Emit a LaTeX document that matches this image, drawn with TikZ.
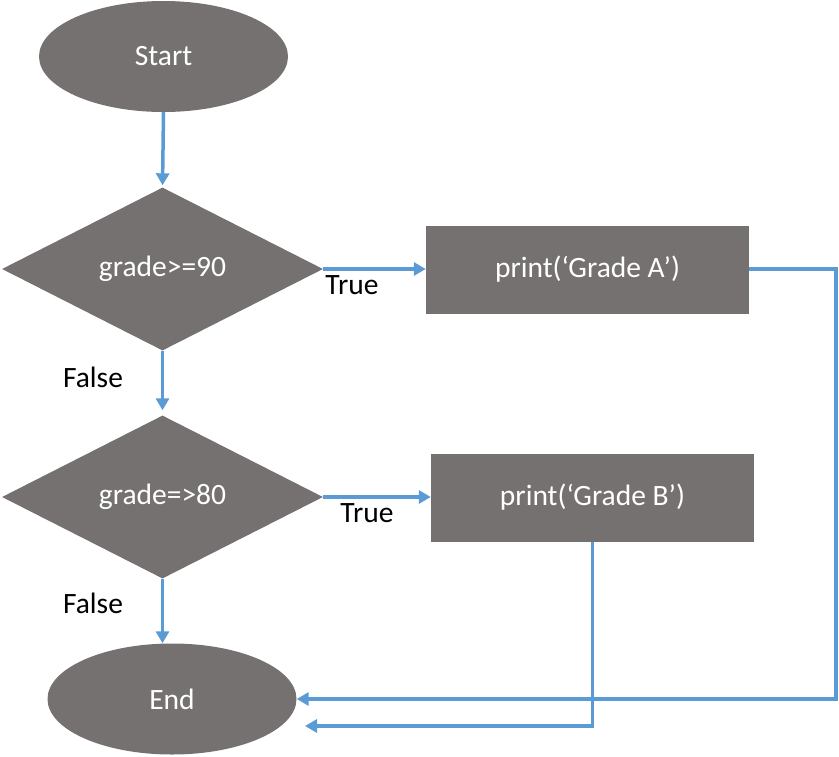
\documentclass[tikz,border=0pt]{standalone}
\usepackage{fontspec}
\setmainfont{Carlito}
\usetikzlibrary{shapes.geometric,arrows.meta}
\definecolor{shapegray}{HTML}{767171}
\definecolor{linkblue}{HTML}{5B9BD5}
\begin{document}
\begin{tikzpicture}[x=1pt,y=-1pt,
  every node/.style={font=\fontsize{29.5}{35}\selectfont},
  term/.style={ellipse,fill=shapegray,text=white,inner sep=0pt,minimum width=249pt,minimum height=111pt},
  decide/.style={diamond,fill=shapegray,text=white,inner sep=0pt,minimum width=321pt,minimum height=163pt},
  proc/.style={rectangle,fill=shapegray,text=white,inner sep=0pt,minimum width=323pt,minimum height=88pt},
  link/.style={draw=linkblue,line width=3.5pt,-{Triangle[length=12pt,width=13pt]}},
  lbl/.style={text=black,inner sep=0pt}]
\useasboundingbox (0,0) rectangle (839,756);
\node[term] (start) at (163.5,56.5) {Start};
\node[decide] (d1) at (162.5,269) {grade>=90};
\node[decide] (d2) at (162.5,497) {grade=>80};
\node[proc] (a) at (587.5,269.5) {print(‘Grade A’)};
\node[proc] (b) at (592.5,497.5) {print(‘Grade B’)};
\node[term] (end) at (172,699) {End};
\coordinate (rr) at (836,0);
\coordinate (e2) at (305,726);
\node[lbl] (t1) at (352,285) {True};
\node[lbl] (t2) at (367,513) {True};
\node[lbl] (f1) at (93,377) {False};
\node[lbl] (f2) at (93,603) {False};
\draw[link,shorten >=2pt] (start.south) -- (d1.north);
\draw[link,shorten >=5pt] (d1.south) -- (d2.north);
\draw[link] (d2.south) -- (d2.south |- end.north);
\draw[link] (d1.east) -- (d1.east -| a.west);
\draw[link] (d2.east) -- (d2.east -| b.west);
\draw[link] (a.east |- d1.east) -- (d1.east -| rr) |- (end.east);
\draw[link] (b.south) |- (e2);
\end{tikzpicture}
\end{document}
